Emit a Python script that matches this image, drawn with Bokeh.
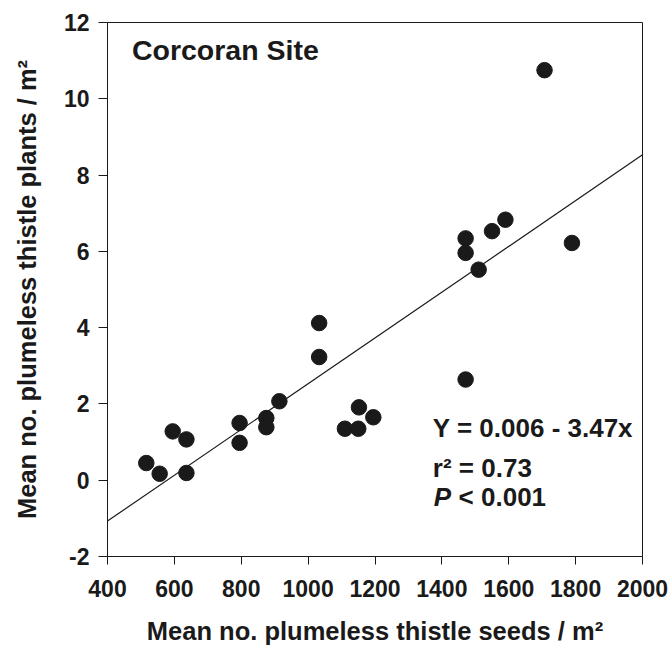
from bokeh.plotting import figure
from bokeh.models import Label, FixedTicker, Range1d
from bokeh.embed import file_html
from bokeh.resources import INLINE

# Data
seeds = [516, 556, 595, 636, 636, 795, 795, 875, 875, 914, 1033, 1033,
         1110, 1150, 1152, 1195, 1471, 1471, 1471, 1510, 1550, 1590, 1707, 1789]
plants = [0.45, 0.17, 1.28, 1.07, 0.19, 1.50, 0.98, 1.63, 1.39, 2.07, 4.12, 3.23,
          1.35, 1.35, 1.91, 1.65, 2.64, 6.34, 5.96, 5.52, 6.53, 6.83, 10.75, 6.22]

x_ticks = [400, 600, 800, 1000, 1200, 1400, 1600, 1800, 2000]
y_ticks = [-2, 0, 2, 4, 6, 8, 10, 12]
y_tick_labels = ["-2", "0", "2", "4", "6", "8", "10", "12"]

fit_intercept = -3.47
fit_slope = 0.006
fit_x = [400, 2000]
fit_y = [fit_intercept + fit_slope * v for v in fit_x]

FONT = "Liberation Sans"
INK = "#1a1a1a"

p = figure(width=670, height=648, output_backend="svg", toolbar_location=None,
           x_range=Range1d(400, 2000), y_range=Range1d(-2, 12),
           min_border_left=107, min_border_right=28, min_border_top=22,
           min_border_bottom=92)

p.background_fill_color = "white"
p.border_fill_color = "white"
p.outline_line_color = INK
p.outline_line_width = 1
p.xgrid.visible = False
p.ygrid.visible = False

for ax, ticks in ((p.xaxis[0], x_ticks), (p.yaxis[0], y_ticks)):
    ax.ticker = FixedTicker(ticks=ticks)
    ax.minor_tick_line_color = None
    ax.major_tick_in = 0
    ax.major_tick_out = 9
    ax.axis_line_color = INK
    ax.major_tick_line_color = INK
    ax.major_label_text_font = FONT
    ax.major_label_text_font_style = "bold"
    ax.major_label_text_font_size = "23px"
    ax.major_label_text_color = INK
    ax.axis_label_text_font = FONT
    ax.axis_label_text_font_style = "bold"
    ax.axis_label_text_font_size = "25.5px"
    ax.axis_label_text_color = INK

p.yaxis[0].major_label_overrides = {t: s for t, s in zip(y_ticks, y_tick_labels)}
p.xaxis[0].major_tick_out = 8
p.xaxis[0].major_label_standoff = 15
p.yaxis[0].major_label_standoff = 9
p.xaxis[0].axis_label = "Mean no. plumeless thistle seeds / m\u00b2"
p.yaxis[0].axis_label = "Mean no. plumeless thistle plants / m\u00b2"
p.xaxis[0].axis_label_standoff = 17
p.yaxis[0].axis_label_standoff = 20

p.line(fit_x, fit_y, line_color=INK, line_width=1.2)
p.scatter(seeds, plants, size=15.5, fill_color=INK, line_color=INK)

def lab(x, y, text, size="26px", style="bold"):
    p.add_layout(Label(x=x, y=y, text=text, text_font=FONT, text_font_style=style,
                       text_font_size=size, text_color=INK, text_baseline="alphabetic"))

lab(473, 11.27, "Corcoran Site", size="28.5px")
lab(1373, 1.38, "Y = 0.006 - 3.47x")
lab(1373, 0.33, "r\u00b2 = 0.73")
lab(1376, -0.44, "P", style="bold italic")
lab(1450, -0.44, "< 0.001")

open("out.html", "w").write(file_html(p, INLINE))
